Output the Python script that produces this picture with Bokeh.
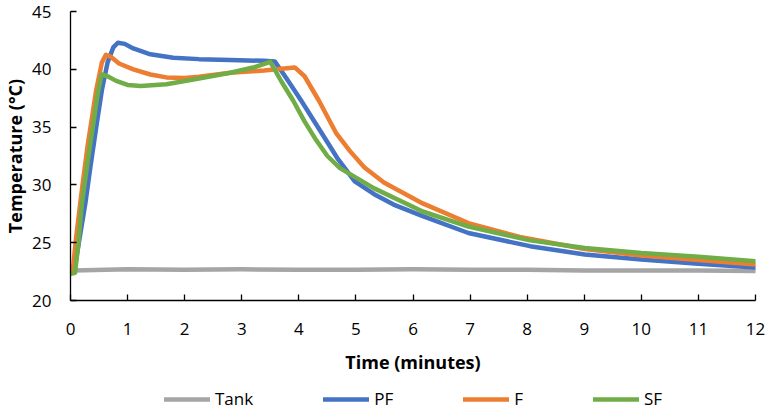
from bokeh.plotting import figure
from bokeh.models import Range1d, Legend, LegendItem, FixedTicker
from bokeh.layouts import column
from bokeh.embed import file_html
from bokeh.resources import INLINE

# ---- data ----
tank_t = [0.05, 1, 2, 3, 4, 5, 6, 7, 8, 9, 10, 11, 12]
tank_T = [22.6, 22.7, 22.65, 22.7, 22.65, 22.65, 22.7, 22.65, 22.65, 22.6, 22.6, 22.6, 22.55]

pf_t = [0, 0.05, 0.1, 0.2, 0.26, 0.35, 0.46, 0.55, 0.65, 0.75, 0.83, 0.95, 1.1, 1.4, 1.8,
        2.25, 2.8, 3.39, 3.58, 3.8, 4.04, 4.41, 4.69, 4.98, 5.32, 5.66, 6.17, 6.97, 8.05,
        9.01, 10.0, 11.0, 12.0]
pf_T = [22.5, 22.7, 23.6, 26.6, 28.4, 31.6, 35.3, 38.2, 40.6, 41.9, 42.3, 42.2, 41.8, 41.3, 41.0,
        40.88, 40.8, 40.73, 40.68, 39.1, 37.3, 34.4, 32.2, 30.3, 29.2, 28.3, 27.3, 25.84, 24.7,
        23.98, 23.55, 23.18, 22.85]

f_t = [0, 0.04, 0.1, 0.2, 0.3, 0.36, 0.45, 0.55, 0.62, 0.7, 0.85, 1.1, 1.4, 1.68, 2.0, 2.25,
       2.8, 3.39, 3.7, 3.93, 4.1, 4.35, 4.66, 4.9, 5.15, 5.49, 6.17, 6.97, 7.87, 9.01, 10.0, 11.0, 12.0]
f_T = [22.3, 22.6, 25.5, 29.6, 33.4, 35.3, 38.2, 40.6, 41.25, 41.1, 40.5, 40.0, 39.55, 39.3, 39.25, 39.35,
       39.7, 39.9, 40.05, 40.16, 39.4, 37.3, 34.43, 32.9, 31.5, 30.2, 28.4, 26.7, 25.5, 24.45, 23.9, 23.5, 23.12]

sf_t = [0, 0.08, 0.14, 0.2, 0.3, 0.4, 0.48, 0.545, 0.65, 0.8, 1.0, 1.23, 1.68, 2.25, 2.8, 3.2,
        3.5, 3.7, 3.9, 4.1, 4.3, 4.5, 4.72, 5.15, 5.32, 6.17, 6.97, 8.05, 9.01, 10.0, 11.0, 12.0]
sf_T = [22.3, 22.4, 25.0, 28.4, 32.0, 35.3, 38.0, 39.55, 39.4, 39.0, 38.65, 38.55, 38.7, 39.2, 39.7, 40.15,
        40.65, 38.9, 37.3, 35.5, 33.9, 32.5, 31.45, 30.2, 29.7, 27.7, 26.4, 25.2, 24.55, 24.1, 23.78, 23.4]

series_names = ["Tank", "PF", "F", "SF"]
series_colors = ["#A5A5A5", "#4472C4", "#ED7D31", "#70AD47"]

x_ticks = list(range(0, 13))
y_ticks = [20, 25, 30, 35, 40, 45]

FONT = "Open Sans"
LW = 4.5

p = figure(width=766, height=376, x_range=Range1d(0, 12), y_range=Range1d(20, 45),
           output_backend="svg", toolbar_location=None,
           min_border_left=60, min_border_right=11, min_border_top=11, min_border_bottom=0)
p.outline_line_color = None
p.xgrid.visible = False
p.ygrid.visible = False

for ax in (p.xaxis[0], p.yaxis[0]):
    ax.axis_line_color = "#000000"
    ax.axis_line_width = 1.3
    ax.major_tick_line_color = "#000000"
    ax.major_tick_line_width = 1.3
    ax.major_tick_in = 6
    ax.major_tick_out = 0
    ax.minor_tick_in = 0
    ax.minor_tick_out = 0
    ax.major_label_text_font = FONT
    ax.major_label_text_font_size = "17px"
    ax.major_label_text_color = "#000000"
    ax.axis_label_text_font = FONT
    ax.axis_label_text_font_size = "18px"
    ax.axis_label_text_font_style = "bold"
    ax.axis_label_text_color = "#000000"

p.xaxis.ticker = FixedTicker(ticks=x_ticks)
p.yaxis.ticker = FixedTicker(ticks=y_ticks)
p.xaxis.axis_label = "Time (minutes)"
p.yaxis.axis_label = "Temperature (°C)"
p.xaxis.major_label_standoff = 22
p.xaxis.axis_label_standoff = 12
p.yaxis.major_label_standoff = 19
p.yaxis.axis_label_standoff = 2

data = [(tank_t, tank_T), (pf_t, pf_T), (f_t, f_T), (sf_t, sf_T)]
for (xs, ys), c in zip(data, series_colors):
    p.line(xs, ys, line_color=c, line_width=LW, line_cap="round", line_join="round")

# legend strip below the chart (its lines fall outside the strip's y range, only the legend shows)
lg = figure(width=766, height=34, x_range=Range1d(0, 12), y_range=Range1d(100, 101),
            output_backend="svg", toolbar_location=None,
            x_axis_location=None, y_axis_location=None,
            min_border_left=0, min_border_right=0, min_border_top=0, min_border_bottom=0)
lg.xgrid.visible = False
lg.ygrid.visible = False
lg.outline_line_color = None
items = []
for name, c, (xs, ys) in zip(series_names, series_colors, data):
    r = lg.line(xs, ys, line_color=c, line_width=LW, line_cap="round")
    items.append(LegendItem(label=name, renderers=[r]))
legend = Legend(items=items, location=(94, 0), orientation="horizontal",
                glyph_width=46, glyph_height=16, label_height=16, label_width=8,
                label_standoff=5, spacing=70,
                padding=0, margin=0, border_line_color=None, background_fill_alpha=0,
                label_text_font=FONT, label_text_font_size="17px", label_text_color="#000000")
lg.add_layout(legend)

layout = column(p, lg, spacing=0)
open("out.html", "w").write(file_html(layout, INLINE))
